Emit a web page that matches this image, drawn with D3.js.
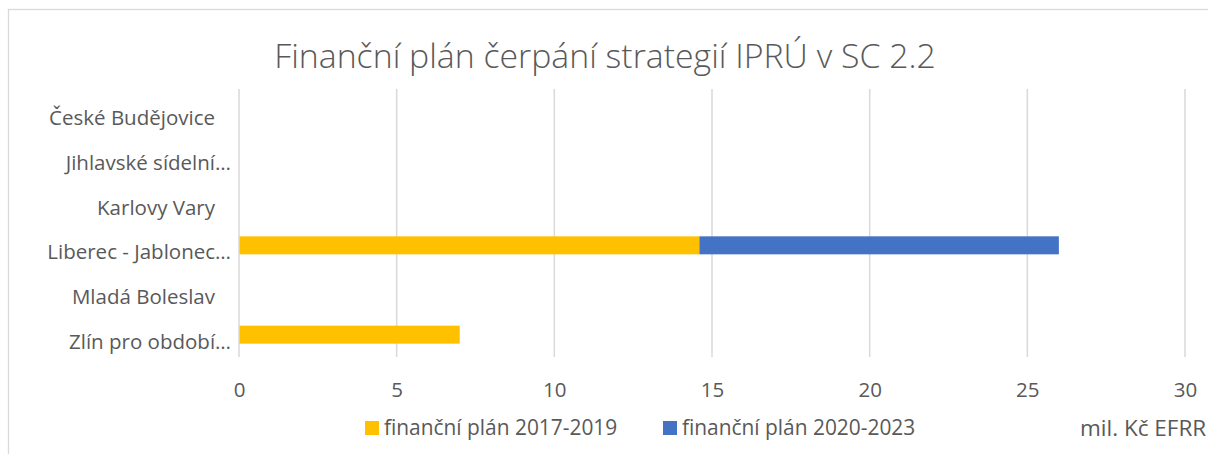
<!DOCTYPE html>
<html><head><meta charset="utf-8">
<script src="https://cdn.jsdelivr.net/npm/d3@7"></script>
<style>
html,body{margin:0;padding:0;background:#fff;overflow:hidden;}
svg{display:block;font-family:"Open Sans",sans-serif;}
</style></head>
<body>
<svg id="c" width="1208" height="454"></svg>
<script>
const categories = ["České Budějovice","Jihlavské sídelní…","Karlovy Vary","Liberec - Jablonec…","Mladá Boleslav","Zlín pro období…"];
const plan2017_2019 = [0,0,0,14.6,0,7.0];
const plan2020_2023 = [0,0,0,11.4,0,0];
const seriesNames = ["finanční plán 2017-2019","finanční plán 2020-2023"];
const seriesColors = ["#FFC000","#4472C4"];
const xTicks = [0,5,10,15,20,25,30];
const title = "Finanční plán čerpání strategií IPRÚ v SC 2.2";
const axisTitle = "mil. Kč EFRR";

const svg = d3.select("#c");
const grey = "#595959";
const fs = 20.5;

// chart frame
svg.append("rect").attr("x",8.5).attr("y",9.5).attr("width",1400).attr("height",600)
  .attr("fill","#fff").attr("stroke","#d9d9d9").attr("stroke-width",1.3);

svg.append("text").attr("x",605).attr("y",68).attr("text-anchor","middle")
  .attr("font-size",33.8).attr("font-weight",300).attr("fill",grey).text(title);

const x = d3.scaleLinear().domain([0,30]).range([239,1185]);
const y = d3.scaleBand().domain(categories).range([89,357]).paddingInner(0.597).paddingOuter(0.2985);

// gridlines
svg.append("g").selectAll("line").data(xTicks.filter(d=>d>0)).join("line")
  .attr("x1",d=>x(d)).attr("x2",d=>x(d)).attr("y1",89).attr("y2",357)
  .attr("stroke","#d9d9d9").attr("stroke-width",1.5);

// stacked bars
const rows = categories.map((c,i)=>({cat:c, a:plan2017_2019[i], b:plan2020_2023[i]}));
const stack = d3.stack().keys(["a","b"])(rows);
svg.append("g").selectAll("g").data(stack).join("g")
  .attr("fill",(d,i)=>seriesColors[i])
  .selectAll("rect").data(d=>d).join("rect")
  .attr("x",d=>x(d[0])).attr("width",d=>x(d[1])-x(d[0]))
  .attr("y",d=>y(d.data.cat)).attr("height",y.bandwidth());

// category axis line
svg.append("line").attr("x1",239).attr("x2",239).attr("y1",89).attr("y2",357)
  .attr("stroke","#d9d9d9").attr("stroke-width",1.5);

// category labels
const yAxis = svg.append("g").attr("transform","translate(231,0)")
  .call(d3.axisLeft(y).tickSize(0).tickPadding(0));
yAxis.select(".domain").remove();
yAxis.selectAll("text").attr("font-size",fs).attr("fill",grey).attr("font-family","Open Sans")
  .attr("dy","14px").attr("dx",d=>d.endsWith("…")?0:-16);

// x tick labels
const xAxis = svg.append("g").attr("transform","translate(0,397)")
  .call(d3.axisBottom(x).tickValues(xTicks).tickSize(0).tickPadding(0).tickFormat(d3.format("d")));
xAxis.select(".domain").remove();
xAxis.selectAll("text").attr("font-size",fs).attr("fill",grey).attr("font-family","Open Sans").attr("dy","0px");

// legend
const legX = [365,663];
const leg = svg.append("g").selectAll("g").data(seriesNames).join("g")
  .attr("transform",(d,i)=>`translate(${legX[i]},421)`);
leg.append("rect").attr("width",14).attr("height",14).attr("fill",(d,i)=>seriesColors[i]);
leg.append("text").attr("x",19).attr("y",14).attr("font-size",20.9).attr("fill",grey).text(d=>d);

svg.append("text").attr("x",1080).attr("y",436).attr("font-size",22.5).attr("fill",grey).text(axisTitle);
</script>
</body></html>
